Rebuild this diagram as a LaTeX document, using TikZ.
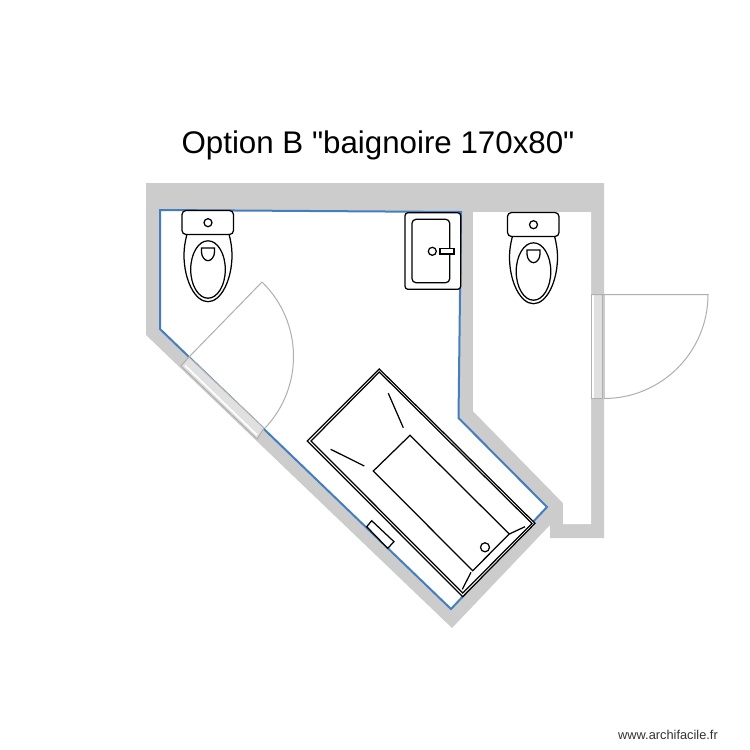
\documentclass[tikz,border=0pt]{standalone}
\usepackage{fontspec}
\setmainfont{Liberation Sans}
\definecolor{wallgray}{RGB}{204,204,204}
\definecolor{roomblue}{RGB}{68,126,190}
\definecolor{doorgray}{RGB}{175,175,175}
\definecolor{doorfill}{RGB}{224,224,224}
\tikzset{
    fixture/.style={draw=black, line width=1.25pt, fill=white},
    doorline/.style={draw=doorgray, line width=1pt},
    pics/toilet/.style={code={
        \draw[fixture] (187,234) .. controls (185,242) and (184,248) .. (184,255)
            .. controls (184,280) and (195,301.7) .. (208,301.7)
            .. controls (221,301.7) and (232,280) .. (232,255)
            .. controls (232,248) and (231,242) .. (229,234);
        \draw[fixture] (208,269.5) ellipse [x radius=17.3, y radius=28.7];
        \draw[fixture] (201.5,248) -- (214.5,248) -- (214.5,252) .. controls (214.5,257) and (211,260.7) .. (208,260.7)
            .. controls (205,260.7) and (201.5,257) .. (201.5,252) -- cycle;
        \draw[fixture, rounded corners=4pt] (182,210.5) rectangle (233.5,234.5);
        \draw[fixture] (208,222.7) circle [radius=4];
    }}
}
\begin{document}
\begin{tikzpicture}[x=1pt, y=-1pt]
    \useasboundingbox (0,0) rectangle (750,750);
    \fill[white] (0,0) rectangle (750,750);
    % walls
    \fill[wallgray] (146,183) -- (604,183) -- (604,538) -- (550,538) -- (550,525) -- (452,628) -- (146,335) -- cycle;
    \fill[white] (473,212) -- (591,212) -- (591,524) -- (563,524) -- (563,503) -- (473,411) -- cycle;
    \draw[roomblue, line width=2pt, fill=white] (160,210) -- (461,212) -- (458.5,418) -- (547,507) -- (451,609) -- (160,329) -- cycle;
    % doors
    \fill[doorfill] (181,366) -- (189,357) -- (264,428) -- (257,439) -- cycle;
    \draw[doorline] (181,366) -- (189,357) -- (264,428) -- (257,439) -- cycle;
    \draw[doorline, white, line width=1.6pt] (185,365.5) -- (257,435);
    \draw[doorline] (189,357) -- (262,282) arc [start angle=-45.8, end angle=43.4, radius=104];
    \fill[wallgray] (591,294.5) rectangle (605,398);
    \fill[white] (591,294.5) rectangle (593.5,398);
    \fill[doorfill] (593.5,294.5) rectangle (602,398);
    \draw[doorline] (591,294.5) rectangle (602,398);
    \draw[doorline] (591,294.5) -- (708,294.5) arc [start angle=0, end angle=90, radius=104];
    % toilets
    \pic at (0,0) {toilet};
    \pic at (325.5,2) {toilet};
    % sink
    \draw[fixture, rounded corners=3pt] (405,212.7) rectangle (460.7,289.3);
    \draw[fixture, rounded corners=4pt] (412,219.3) rectangle (449.7,282.7);
    \draw[fixture] (432.3,251.3) circle [radius=4];
    \draw[fixture] (440,248.3) rectangle (454,254);
    % bathtub
    \draw[fixture] (379.3,369) -- (535,523.3) -- (462.7,596.7) -- (307.3,441) -- cycle;
    \draw[fixture] (379.3,372) -- (532,523.5) -- (462.7,593) -- (311,441) -- cycle;
    \draw[fixture] (410,435.3) -- (509.3,534) -- (472.7,570.7) -- (373.3,471) -- cycle;
    \draw[fixture] (388.3,393.3) -- (403.3,427.7);
    \draw[fixture] (330.7,449.3) -- (364.3,466);
    \draw[fixture] (471,572.3) -- (462.3,589.3);
    \draw[fixture] (509.3,534) -- (525,526.7);
    \draw[fixture] (485,547.3) circle [radius=4.5];
    \draw[fixture] (371.7,520.7) -- (394,541.7) -- (387.7,548.3) -- (366.7,526.7) -- cycle;
    % texts
    \node (title) at (378,145) {\fontsize{31.3}{36}\selectfont Option B \textquotedbl baignoire 170x80\textquotedbl};
    \node[text=black!80] (watermark) at (668,735) {\fontsize{12.8}{15}\selectfont www.archifacile.fr};
\end{tikzpicture}
\end{document}
